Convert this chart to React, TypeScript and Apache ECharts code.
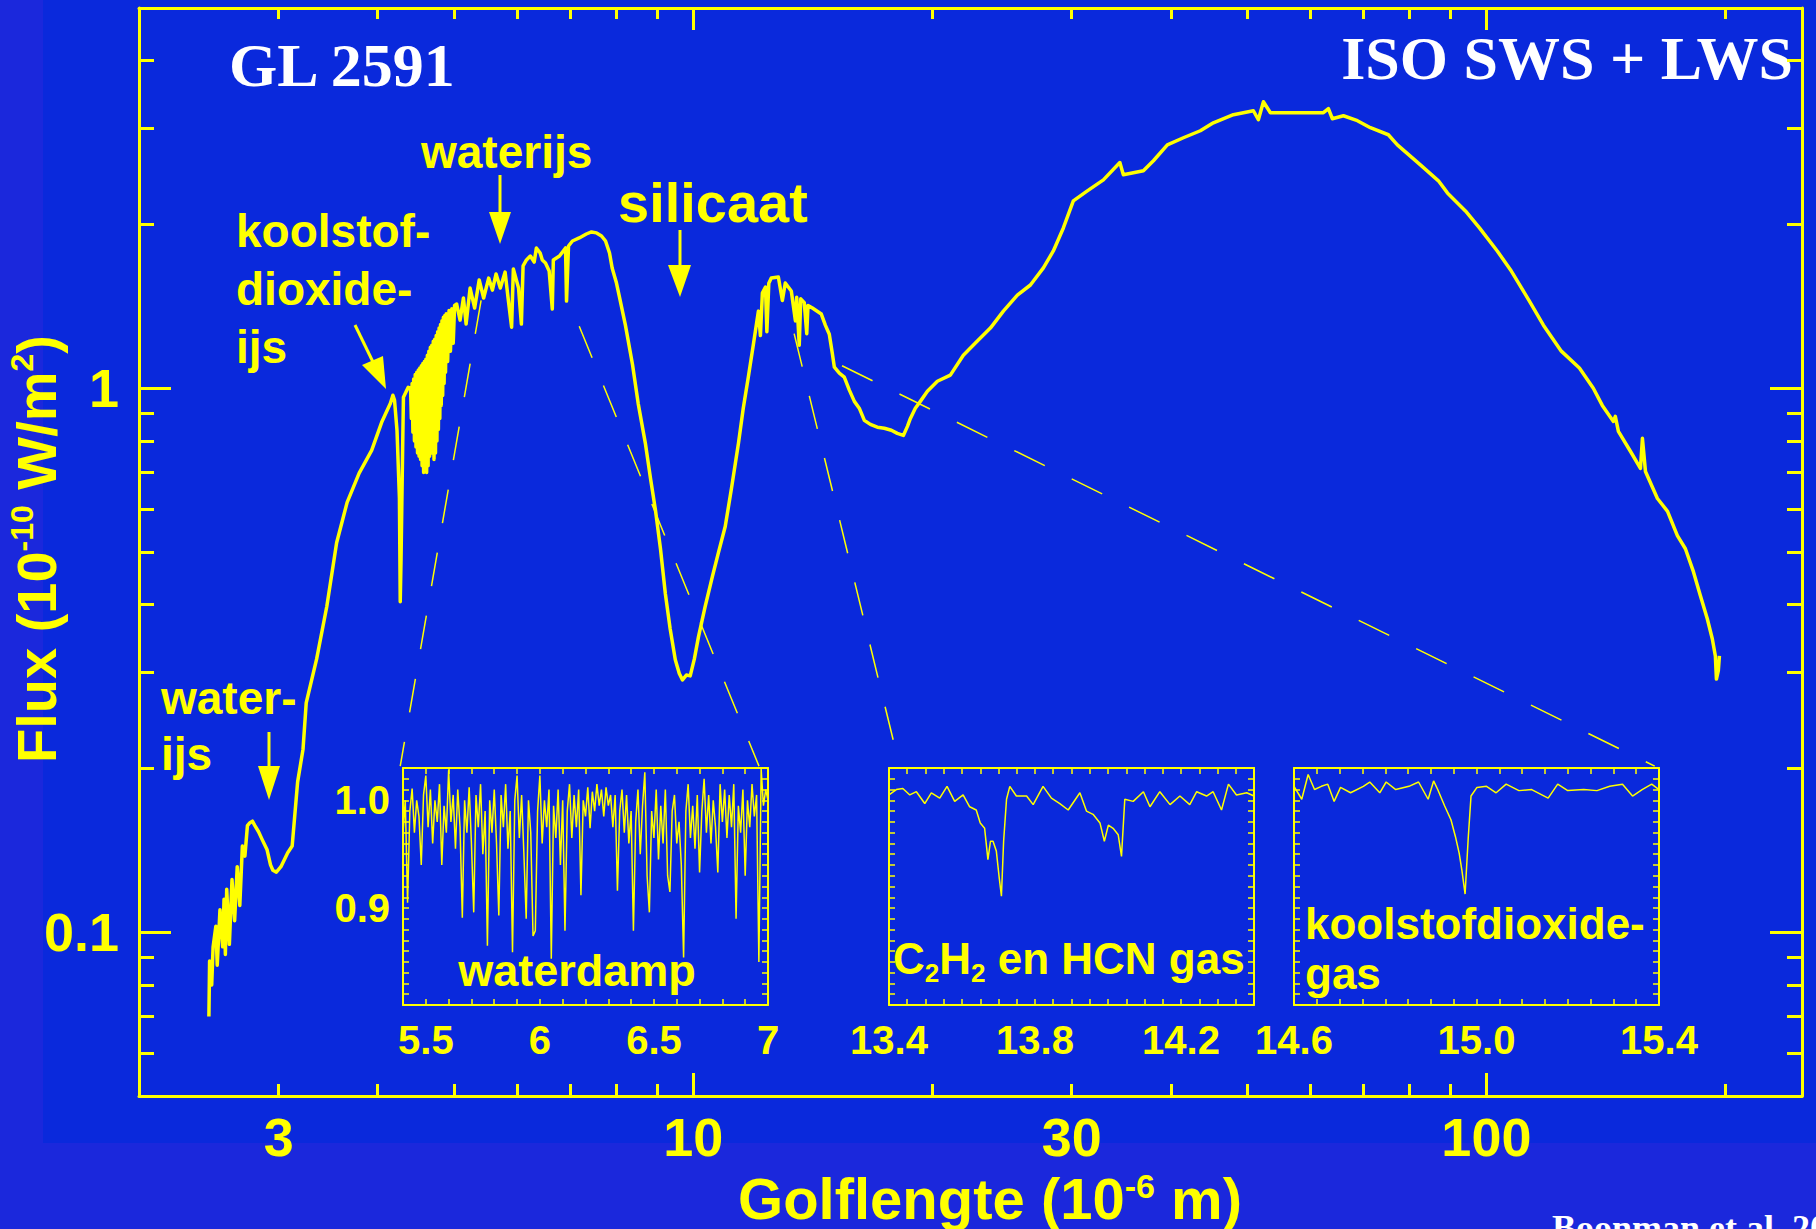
import React, { useEffect, useRef } from 'react';
import * as echarts from 'echarts';

const YELLOW = '#FFFF00';
const WHITE = '#FFFFFF';
const OUTER_BLUE = '#1B28DC';
const PANEL_BLUE = '#0A29DC';
const SANS = '"Liberation Sans", Arial, Helvetica, sans-serif';
const SERIF = '"Liberation Serif", "Times New Roman", serif';

// ---------------- main axes ----------------
const wavelengthRange = [2, 250]; // 10^-6 m
const fluxRange = [0.05, 5]; // 10^-10 W/m^2
const xLabelValues = [3, 10, 30, 100];
const xMajorTicks = [10, 100];
const xMinorTicks = [3, 4, 5, 6, 7, 8, 9, 20, 30, 40, 50, 60, 70, 80, 90, 200];
const yLabelValues = [0.1, 1];
const yMajorTicks = [0.1, 1];
const yMinorTicks = [0.06, 0.07, 0.08, 0.09, 0.2, 0.3, 0.4, 0.5, 0.6, 0.7, 0.8, 0.9, 2, 3, 4];

// ---------------- main spectrum [wavelength, flux] ----------------
const swsShort = [
  [2.45, 0.070], [2.455, 0.0885], [2.47, 0.080], [2.48, 0.094], [2.50, 0.1026], [2.51, 0.087],
  [2.53, 0.110], [2.55, 0.094], [2.56, 0.115], [2.57, 0.091], [2.58, 0.120], [2.60, 0.095],
  [2.62, 0.125], [2.64, 0.105], [2.66, 0.132], [2.68, 0.112], [2.70, 0.144], [2.72, 0.138],
  [2.74, 0.157], [2.76, 0.159], [2.78, 0.160], [2.80, 0.157], [2.83, 0.153], [2.86, 0.148],
  [2.90, 0.142], [2.93, 0.133], [2.95, 0.130], [2.98, 0.129], [3.02, 0.132], [3.08, 0.140],
  [3.12, 0.144], [3.17, 0.189], [3.22, 0.217], [3.25, 0.264], [3.35, 0.318], [3.45, 0.397],
  [3.55, 0.520], [3.66, 0.617], [3.79, 0.698], [3.93, 0.769], [4.05, 0.869], [4.15, 0.938],
  [4.18, 0.971], [4.20, 0.950], [4.23, 0.837], [4.26, 0.627], [4.27, 0.405], [4.28, 0.486],
  [4.30, 0.775], [4.31, 0.963], [4.37, 1.004],
];
const swsMid = [
  [4.40, 1.00], [4.41, 0.88], [4.42, 1.02], [4.43, 0.83], [4.44, 1.04], [4.45, 0.80], [4.46, 1.06],
  [4.47, 0.78], [4.48, 1.07], [4.49, 0.76], [4.50, 1.08], [4.51, 0.75], [4.52, 1.09], [4.53, 0.74],
  [4.54, 1.10], [4.55, 0.72], [4.56, 1.11], [4.57, 0.70], [4.58, 1.12], [4.59, 0.71], [4.60, 1.13],
  [4.61, 0.70], [4.62, 1.15], [4.63, 0.72], [4.64, 1.17], [4.65, 0.75], [4.66, 1.19], [4.67, 0.77],
  [4.68, 1.20], [4.69, 0.76], [4.70, 1.22], [4.71, 0.74], [4.72, 1.23], [4.73, 0.76], [4.74, 1.25],
  [4.75, 0.80], [4.76, 1.27], [4.77, 0.84], [4.78, 1.29], [4.79, 0.88], [4.80, 1.31], [4.81, 0.93],
  [4.82, 1.33], [4.83, 0.97], [4.84, 1.35], [4.85, 1.02], [4.86, 1.36], [4.87, 1.07], [4.88, 1.37],
  [4.90, 1.12], [4.92, 1.39], [4.94, 1.17], [4.96, 1.40], [4.98, 1.21], [5.00, 1.42], [5.03, 1.428],
  [5.08, 1.334], [5.13, 1.465], [5.17, 1.312], [5.23, 1.528], [5.30, 1.404], [5.37, 1.581],
  [5.44, 1.465], [5.52, 1.594], [5.58, 1.515], [5.64, 1.622], [5.71, 1.528], [5.79, 1.635],
  [5.84, 1.465], [5.90, 1.295], [5.93, 1.656], [6.02, 1.528], [6.07, 1.312], [6.10, 1.678],
  [6.16, 1.721], [6.23, 1.750], [6.30, 1.706], [6.34, 1.811], [6.41, 1.773], [6.45, 1.721],
  [6.51, 1.699], [6.58, 1.642], [6.64, 1.398], [6.66, 1.721], [6.78, 1.750], [6.90, 1.811],
  [6.92, 1.446], [6.96, 1.826], [7.04, 1.865], [7.18, 1.889], [7.33, 1.921], [7.44, 1.938],
  [7.55, 1.930], [7.66, 1.905], [7.75, 1.865], [7.84, 1.773], [7.90, 1.664],
];
const swsLong = [
  [8.00, 1.561], [8.07, 1.471], [8.21, 1.306], [8.38, 1.107], [8.52, 0.938], [8.70, 0.792],
  [8.83, 0.683], [8.96, 0.596], [9.09, 0.507], [9.22, 0.419], [9.35, 0.361], [9.49, 0.317],
  [9.60, 0.299], [9.69, 0.291], [9.80, 0.297], [9.91, 0.296], [10.03, 0.318], [10.15, 0.349],
  [10.35, 0.397], [10.57, 0.451], [10.75, 0.497], [10.97, 0.557], [11.17, 0.654], [11.40, 0.792],
  [11.56, 0.919], [11.73, 1.048], [11.90, 1.200], [12.08, 1.386], [12.15, 1.25], [12.22, 1.496],
  [12.33, 1.535], [12.38, 1.27], [12.45, 1.56], [12.54, 1.594], [12.80, 1.601], [12.95, 1.45],
  [13.06, 1.561], [13.29, 1.509], [13.45, 1.33], [13.50, 1.47], [13.60, 1.20], [13.66, 1.46],
  [13.80, 1.437], [13.90, 1.26], [13.95, 1.42], [14.13, 1.404], [14.50, 1.369], [14.67, 1.306],
  [14.84, 1.257], [14.97, 1.160], [15.06, 1.093], [15.28, 1.066], [15.50, 1.048], [15.73, 0.992],
  [15.96, 0.946], [16.19, 0.919], [16.43, 0.873], [16.72, 0.858], [17.06, 0.848], [17.41, 0.844],
  [17.77, 0.837], [18.08, 0.826], [18.40, 0.819], [18.62, 0.851], [18.78, 0.880], [19.05, 0.919],
  [19.33, 0.946], [19.73, 0.987], [20.31, 1.030], [21.09, 1.057], [21.90, 1.150], [22.81, 1.221],
  [23.69, 1.290], [24.60, 1.386], [25.62, 1.483], [26.61, 1.548], [27.63, 1.664], [28.44, 1.788],
  [29.28, 1.971], [30.14, 2.210], [31.39, 2.306], [32.89, 2.416], [34.5, 2.60], [34.85, 2.468],
  [36.94, 2.510], [38.03, 2.619], [39.60, 2.802], [41.49, 2.887], [43.58, 2.974],
];
const lws = [
  [45.26, 3.076], [47.97, 3.183], [50.84, 3.237], [51.58, 3.116], [52.34, 3.363], [53.41, 3.210],
  [58.27, 3.210], [62.30, 3.210], [63.21, 3.265], [63.94, 3.129], [66.02, 3.169], [68.76, 3.103],
  [71.40, 3.012], [75.23, 2.924], [77.22, 2.802], [82.56, 2.574], [87.00, 2.406], [89.30, 2.286],
  [94.10, 2.118], [98.00, 1.971], [103.2, 1.788], [107.5, 1.642], [113.3, 1.446], [118.0, 1.306],
  [124.3, 1.170], [131.0, 1.089], [136.4, 1.000], [140.0, 0.930], [144.6, 0.869], [145.4, 0.888],
  [146.7, 0.833], [151.9, 0.766], [156.4, 0.712], [157.3, 0.809], [158.7, 0.703], [164.3, 0.627],
  [169.2, 0.594], [174.1, 0.536], [178.2, 0.507], [182.4, 0.460], [186.1, 0.416], [189.9, 0.377],
  [192.7, 0.346], [194.4, 0.322], [195.0, 0.292], [196.1, 0.303], [196.7, 0.322],
];

// dashed zoom lines: from the spectrum to the inset boxes [wavelength, flux]
const zoomLines = [
  [[5.4, 1.45], [4.27, 0.202]],
  [[7.18, 1.30], [12.1, 0.202]],
  [[13.4, 1.26], [18.2, 0.202]],
  [[15.4, 1.10], [163, 0.202]],
];

// ---------------- insets (normalised flux) ----------------
const insetFluxRange = [0.81, 1.03];
const waterRange = [5.4, 7.0];
const waterLabels = [5.5, 6, 6.5, 7];
const waterYLabels = [0.9, 1.0];
const waterVapour = [
  [5.40, 0.97], [5.41, 1.00], [5.42, 0.905], [5.43, 0.99], [5.44, 1.011], [5.45, 0.97], [5.46, 1.00],
  [5.47, 0.985], [5.48, 0.94], [5.49, 1.005], [5.50, 1.023], [5.51, 0.975], [5.52, 1.01], [5.53, 0.96],
  [5.54, 1.00], [5.55, 0.98], [5.56, 1.015], [5.57, 0.94], [5.58, 0.995], [5.59, 0.97], [5.60, 1.028],
  [5.61, 0.98], [5.62, 1.005], [5.63, 0.955], [5.64, 1.01], [5.65, 0.975], [5.66, 0.891], [5.67, 1.00],
  [5.68, 0.97], [5.69, 1.012], [5.70, 0.96], [5.71, 0.896], [5.72, 1.005], [5.73, 0.975], [5.74, 1.015],
  [5.75, 0.95], [5.76, 0.99], [5.77, 0.865], [5.78, 1.00], [5.79, 0.97], [5.80, 1.01], [5.81, 0.96],
  [5.82, 0.893], [5.83, 1.005], [5.84, 0.975], [5.85, 1.015], [5.86, 0.955], [5.87, 0.99], [5.88, 0.859],
  [5.89, 1.0], [5.90, 1.023], [5.91, 0.965], [5.92, 1.005], [5.93, 0.95], [5.94, 0.890], [5.95, 1.0],
  [5.96, 0.97], [5.97, 0.874], [5.98, 0.879], [5.99, 0.99], [6.00, 1.023], [6.01, 0.96], [6.02, 1.0],
  [6.03, 0.975], [6.04, 1.01], [6.05, 0.853], [6.06, 0.995], [6.07, 0.965], [6.08, 1.01], [6.09, 0.94],
  [6.10, 1.0], [6.11, 0.879], [6.12, 0.99], [6.13, 1.015], [6.14, 0.965], [6.15, 1.005], [6.16, 0.975],
  [6.17, 1.01], [6.18, 0.912], [6.19, 1.0], [6.20, 0.985], [6.21, 1.012], [6.22, 0.974], [6.23, 1.008],
  [6.24, 0.99], [6.25, 1.015], [6.26, 0.995], [6.27, 1.01], [6.28, 0.985], [6.29, 1.012], [6.30, 0.995],
  [6.31, 1.005], [6.32, 0.975], [6.33, 1.005], [6.34, 0.916], [6.35, 0.99], [6.36, 1.01], [6.37, 0.97],
  [6.38, 1.005], [6.39, 0.96], [6.40, 0.99], [6.41, 0.879], [6.42, 0.98], [6.43, 1.01], [6.44, 0.95],
  [6.45, 0.995], [6.46, 1.026], [6.47, 0.93], [6.48, 0.896], [6.49, 0.99], [6.50, 0.965], [6.51, 1.01],
  [6.52, 0.945], [6.53, 0.995], [6.54, 0.96], [6.55, 1.01], [6.56, 0.93], [6.57, 0.915], [6.58, 0.99],
  [6.59, 1.005], [6.60, 0.96], [6.61, 0.98], [6.62, 0.94], [6.63, 0.854], [6.64, 0.99], [6.65, 1.015],
  [6.66, 0.965], [6.67, 0.995], [6.68, 0.955], [6.69, 1.005], [6.70, 0.933], [6.71, 0.99], [6.72, 1.02],
  [6.73, 0.97], [6.74, 1.005], [6.75, 0.96], [6.76, 1.0], [6.77, 0.975], [6.78, 0.933], [6.79, 1.015],
  [6.80, 0.98], [6.81, 1.01], [6.82, 0.965], [6.83, 1.005], [6.84, 0.975], [6.85, 1.015], [6.86, 0.89],
  [6.87, 0.995], [6.88, 0.97], [6.89, 1.01], [6.90, 0.93], [6.91, 1.0], [6.92, 0.975], [6.93, 1.015],
  [6.94, 0.985], [6.95, 1.005], [6.96, 0.85], [6.97, 1.029], [6.98, 0.995], [6.99, 1.01], [7.00, 1.0],
];

const hcnRange = [13.4, 14.4];
const hcnLabels = [13.4, 13.8, 14.2];
const c2h2Hcn = [
  [13.400, 1.005], [13.420, 1.010], [13.438, 1.011], [13.457, 1.005], [13.475, 1.008], [13.498, 0.997],
  [13.516, 1.007], [13.539, 1.002], [13.559, 1.013], [13.580, 0.999], [13.603, 1.005], [13.621, 0.994],
  [13.639, 0.991], [13.650, 0.979], [13.662, 0.974], [13.671, 0.945], [13.678, 0.962], [13.685, 0.962],
  [13.694, 0.953], [13.702, 0.928], [13.708, 0.911], [13.714, 0.962], [13.722, 1.001], [13.731, 1.013],
  [13.749, 1.004], [13.777, 1.004], [13.795, 0.996], [13.822, 1.013], [13.845, 1.002], [13.868, 0.997],
  [13.891, 0.991], [13.923, 1.007], [13.941, 0.990], [13.959, 0.987], [13.978, 0.979], [13.990, 0.962],
  [14.001, 0.977], [14.014, 0.974], [14.028, 0.968], [14.037, 0.948], [14.046, 1.001], [14.069, 0.999],
  [14.097, 1.008], [14.115, 0.994], [14.142, 1.008], [14.170, 0.996], [14.197, 1.004], [14.224, 0.996],
  [14.243, 1.008], [14.270, 1.004], [14.288, 1.008], [14.311, 0.991], [14.330, 1.015], [14.352, 1.005],
  [14.380, 1.007], [14.400, 1.004],
];

const co2Range = [14.6, 15.4];
const co2Labels = [14.6, 15.0, 15.4];
const co2Gas = [
  [14.600, 1.013], [14.617, 1.001], [14.631, 1.024], [14.645, 1.010], [14.660, 1.013], [14.674, 1.015],
  [14.688, 0.999], [14.702, 1.012], [14.724, 1.007], [14.752, 1.013], [14.766, 1.017], [14.788, 1.007],
  [14.802, 1.017], [14.823, 1.010], [14.852, 1.013], [14.873, 1.017], [14.894, 1.001], [14.906, 1.018],
  [14.915, 1.010], [14.930, 0.995], [14.944, 0.982], [14.954, 0.966], [14.962, 0.951], [14.968, 0.935],
  [14.975, 0.913], [14.982, 0.966], [14.988, 1.004], [15.001, 1.012], [15.022, 1.013], [15.043, 1.007],
  [15.065, 1.015], [15.093, 1.009], [15.121, 1.010], [15.157, 1.002], [15.178, 1.015], [15.200, 1.009],
  [15.235, 1.010], [15.264, 1.009], [15.292, 1.013], [15.320, 1.015], [15.342, 1.004], [15.363, 1.010],
  [15.384, 1.015], [15.400, 1.010],
];

// ---------------- helpers ----------------
function mainXAxis(position: string, ticks: number[], len: number, line: boolean, labels: number[] | null) {
  return {
    type: 'log', logBase: 10, gridIndex: 0, min: wavelengthRange[0], max: wavelengthRange[1], position,
    axisLine: { show: line, onZero: false, lineStyle: { color: YELLOW, width: 3 } },
    axisTick: { show: true, inside: true, length: len, customValues: ticks, lineStyle: { color: YELLOW, width: 3 } },
    axisLabel: labels
      ? { show: true, customValues: labels, color: YELLOW, fontSize: 54, lineHeight: 54, fontWeight: 'bold', fontFamily: SANS, margin: 14, formatter: (v: number) => String(Math.round(v)) }
      : { show: false },
    splitLine: { show: false },
  };
}
function mainYAxis(position: string, ticks: number[], len: number, line: boolean, labels: number[] | null) {
  return {
    type: 'log', logBase: 10, gridIndex: 0, min: fluxRange[0], max: fluxRange[1], position,
    axisLine: { show: line, onZero: false, lineStyle: { color: YELLOW, width: 3 } },
    axisTick: { show: true, inside: true, length: len, customValues: ticks, lineStyle: { color: YELLOW, width: 3 } },
    axisLabel: labels
      ? { show: true, customValues: labels, color: YELLOW, fontSize: 54, fontWeight: 'bold', fontFamily: SANS, margin: 20, formatter: (v: number) => (v < 0.5 ? '0.1' : '1') }
      : { show: false },
    splitLine: { show: false },
  };
}
function insetX(grid: number, range: number[], interval: number, position: string, labels: number[] | null, fmt: (v: number) => string) {
  return {
    type: 'value', gridIndex: grid, min: range[0], max: range[1], interval, position,
    axisLine: { show: true, onZero: false, lineStyle: { color: YELLOW, width: 2 } },
    axisTick: { show: true, inside: true, length: 6, lineStyle: { color: YELLOW, width: 1.5 } },
    axisLabel: labels
      ? { show: true, customValues: labels, color: YELLOW, fontSize: 40, fontWeight: 'bold', fontFamily: SANS, margin: 15, formatter: (v: number) => fmt(v) }
      : { show: false },
    splitLine: { show: false },
  };
}
function insetY(grid: number, position: string, labels: number[] | null) {
  return {
    type: 'value', gridIndex: grid, min: insetFluxRange[0], max: insetFluxRange[1], interval: 0.01, position,
    axisLine: { show: true, onZero: false, lineStyle: { color: YELLOW, width: 2 } },
    axisTick: { show: true, inside: true, length: 6, lineStyle: { color: YELLOW, width: 1.5 } },
    axisLabel: labels
      ? { show: true, customValues: labels, color: YELLOW, fontSize: 40, fontWeight: 'bold', fontFamily: SANS, margin: 13, formatter: (v: number) => v.toFixed(1) }
      : { show: false },
    splitLine: { show: false },
  };
}

function label(text: string, x: number, y: number, size: number, align = 'left') {
  return {
    type: 'text', x, y, silent: true,
    style: { text, fill: YELLOW, fontSize: size, fontWeight: 'bold', fontFamily: SANS, align, verticalAlign: 'middle' },
  };
}
function whiteTitle(text: string, x: number, y: number, size: number, align = 'left') {
  return {
    type: 'text', x, y, silent: true,
    style: { text, fill: WHITE, fontSize: size, fontWeight: 'bold', fontFamily: SERIF, align, verticalAlign: 'middle' },
  };
}
function shaft(x1: number, y1: number, x2: number, y2: number) {
  return { type: 'line', silent: true, shape: { x1, y1, x2, y2 }, style: { stroke: YELLOW, lineWidth: 3 } };
}
function head(points: number[][]) {
  return { type: 'polygon', silent: true, shape: { points }, style: { fill: YELLOW } };
}

function buildOption() {
  const spectrum = [...swsShort, ...swsMid, ...swsLong, ...lws];
  const supRich = { fontSize: 32, fontWeight: 'bold', fontFamily: SANS, fill: YELLOW, verticalAlign: 'top', lineHeight: 32 };
  const subRich = { fontSize: 26, fontWeight: 'bold', fontFamily: SANS, fill: YELLOW, verticalAlign: 'bottom', lineHeight: 26 };
  const grids = [
    { left: 139, top: 8, width: 1663, height: 1088 },
    { left: 403, top: 768, width: 365, height: 237 },
    { left: 889, top: 768, width: 365, height: 237 },
    { left: 1294, top: 768, width: 365, height: 237 },
  ].map((g) => ({ ...g, show: false, containLabel: false, outerBoundsMode: 'none' }));

  return {
    animation: false,
    backgroundColor: 'transparent',
    grid: grids,
    xAxis: [
      mainXAxis('bottom', xMajorTicks, 23, true, xLabelValues),
      mainXAxis('bottom', xMinorTicks, 12, false, null),
      mainXAxis('top', xMajorTicks, 22, true, null),
      mainXAxis('top', xMinorTicks, 11, false, null),
      insetX(1, waterRange, 0.1, 'bottom', waterLabels, (v) => String(+v.toFixed(1))),
      insetX(1, waterRange, 0.1, 'top', null, String),
      insetX(2, hcnRange, 0.05, 'bottom', hcnLabels, (v) => v.toFixed(1)),
      insetX(2, hcnRange, 0.05, 'top', null, String),
      insetX(3, co2Range, 0.05, 'bottom', co2Labels, (v) => v.toFixed(1)),
      insetX(3, co2Range, 0.05, 'top', null, String),
    ],
    yAxis: [
      mainYAxis('left', yMajorTicks, 32, true, yLabelValues),
      mainYAxis('left', yMinorTicks, 15, false, null),
      mainYAxis('right', yMajorTicks, 32, true, null),
      mainYAxis('right', yMinorTicks, 15, false, null),
      insetY(1, 'left', waterYLabels),
      insetY(1, 'right', null),
      insetY(2, 'left', null),
      insetY(2, 'right', null),
      insetY(3, 'left', null),
      insetY(3, 'right', null),
    ],
    series: [
      ...zoomLines.map((seg) => ({
        type: 'line', xAxisIndex: 0, yAxisIndex: 0, data: seg, symbol: 'none', silent: true, z: 1,
        lineStyle: { color: YELLOW, width: 1.5, type: [34, 30] },
      })),
      {
        type: 'line', xAxisIndex: 0, yAxisIndex: 0, data: spectrum, symbol: 'none', silent: true, z: 3,
        lineStyle: { color: YELLOW, width: 3.5, join: 'round' },
      },
      { type: 'line', xAxisIndex: 4, yAxisIndex: 4, data: waterVapour, symbol: 'none', silent: true, lineStyle: { color: YELLOW, width: 1.5 } },
      { type: 'line', xAxisIndex: 6, yAxisIndex: 6, data: c2h2Hcn, symbol: 'none', silent: true, lineStyle: { color: YELLOW, width: 1.5 } },
      { type: 'line', xAxisIndex: 8, yAxisIndex: 8, data: co2Gas, symbol: 'none', silent: true, lineStyle: { color: YELLOW, width: 1.5 } },
    ],
    graphic: {
      elements: [
        whiteTitle('GL 2591', 229, 65, 62),
        whiteTitle('ISO SWS + LWS', 1793, 58, 62, 'right'),
        whiteTitle('Boonman et al. 2003', 1552, 1228, 36),
        // annotations
        label('waterijs', 421, 152, 46),
        shaft(500, 175, 500, 214),
        head([[489, 212], [511, 212], [500, 244]]),
        label('koolstof-', 236, 231, 46),
        label('dioxide-', 236, 289, 46),
        label('ijs', 236, 347, 46),
        shaft(355, 325, 373, 362),
        head([[362, 365], [383, 356], [386, 389]]),
        label('silicaat', 618, 202, 56),
        shaft(680, 230, 680, 267),
        head([[668, 265], [691, 265], [680, 297]]),
        label('water-', 161, 698, 46),
        label('ijs', 161, 754, 46),
        shaft(269, 732, 269, 768),
        head([[258, 766], [280, 766], [269, 800]]),
        // inset labels
        label('waterdamp', 577, 970, 45, 'center'),
        {
          type: 'text', x: 893, y: 958, silent: true,
          style: {
            text: 'C{sub|2}H{sub|2} en HCN gas', fill: YELLOW, fontSize: 44, fontWeight: 'bold', fontFamily: SANS,
            align: 'left', verticalAlign: 'middle', lineHeight: 56, rich: { sub: subRich },
          },
        },
        label('koolstofdioxide-', 1305, 923, 44),
        label('gas', 1305, 973, 44),
        // axis titles
        {
          type: 'text', x: 36, y: 549, rotation: Math.PI / 2, silent: true,
          style: {
            text: 'Flux (10{sup|-10} W/m{sup|2})', fill: YELLOW, fontSize: 56, fontWeight: 'bold', fontFamily: SANS,
            align: 'center', verticalAlign: 'middle', lineHeight: 60, rich: { sup: supRich },
          },
        },
        {
          type: 'text', x: 990, y: 1198, silent: true,
          style: {
            text: 'Golflengte (10{sup|-6} m)', fill: YELLOW, fontSize: 58, fontWeight: 'bold', fontFamily: SANS,
            align: 'center', verticalAlign: 'middle', lineHeight: 58, rich: { sup: { ...supRich, fontSize: 34, lineHeight: 30 } },
          },
        },
      ],
    },
  };
}

export default function App() {
  const ref = useRef<HTMLDivElement>(null);
  useEffect(() => {
    const chart = echarts.init(ref.current as HTMLDivElement, null, { renderer: 'svg' });
    chart.setOption(buildOption() as any);
    return () => chart.dispose();
  }, []);
  return (
    <div style={{ position: 'fixed', left: 0, top: 0, width: 1816, height: 1229, background: OUTER_BLUE, overflow: 'hidden' }}>
      <div style={{ position: 'absolute', left: 43, top: 0, width: 1773, height: 1143, background: PANEL_BLUE }} />
      <div ref={ref} style={{ position: 'absolute', left: 0, top: 0, width: 1816, height: 1229 }} />
    </div>
  );
}
